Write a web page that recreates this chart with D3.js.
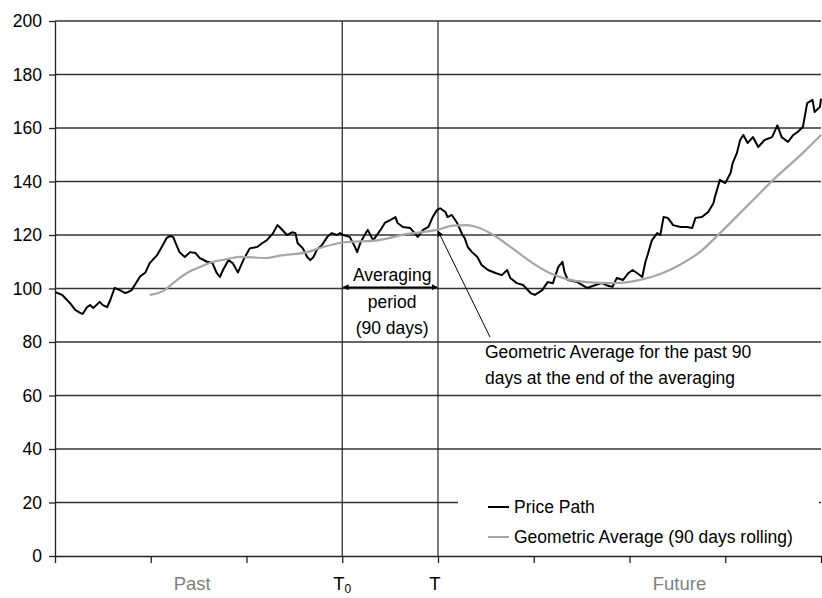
<!DOCTYPE html>
<html>
<head>
<meta charset="utf-8">
<script src="https://cdn.jsdelivr.net/npm/d3@7"></script>
<style>
  body { margin: 0; background: #fff; }
  svg { display: block; font-family: "Liberation Sans", Arial, sans-serif; }
</style>
</head>
<body>
<svg id="chart" width="822" height="598"></svg>
<script>
// price path (day, value)
const priceDays = [0, 7, 14, 19, 24, 26, 30, 33, 36, 42, 45, 49, 52, 56, 61, 66, 69, 72, 75, 80,
  85, 89, 96, 101, 105, 108, 111, 115, 117, 122, 127, 132, 136, 143, 148, 152, 155, 158, 163, 167,
  172, 177, 183, 190, 195, 199, 205, 209, 212, 218, 223, 226, 228, 233, 237, 240, 243, 246, 251, 256,
  260, 265, 268, 271, 277, 282, 284, 287, 291, 294, 299, 306, 310, 315, 320, 322, 327, 334, 338, 341,
  346, 351, 355, 359, 362, 367, 369, 373, 378, 383, 385, 388, 392, 397, 401, 407, 414, 420, 425, 428,
  434, 440, 447, 451, 458, 463, 468, 473, 477, 479, 482, 491, 500, 508, 514, 520, 524, 528, 534, 539,
  543, 547, 552, 555, 557, 561, 566, 569, 572, 576, 581, 588, 594, 599, 602, 608, 614, 619, 620, 625,
  630, 635, 637, 641, 644, 647, 651, 656, 661, 667, 674, 679, 683, 689, 694, 698, 703, 707, 712, 714,
  719, 720];
const priceValues = [98.7, 97.5, 94.6, 92, 90.8, 90.5, 93, 93.8, 92.7, 95, 93.8, 93, 95.7, 100.2, 99.4, 98.3, 98.7, 99.4, 101.3, 104.5,
  106, 109.5, 112.5, 116, 118.9, 119.6, 119.3, 115.5, 113.6, 111.8, 113.6, 113.3, 111.4, 110, 109.5, 105.8, 104.3, 107, 110.6, 109.5,
  106, 110.6, 115, 115.5, 117, 118, 120.7, 123.7, 122.6, 120, 121, 120.7, 117, 115, 111.8, 110.6, 111.8, 114.4, 116.3, 119.3,
  120.7, 120, 120.7, 120, 119.3, 115.5, 113.6, 117, 120, 121.9, 118, 121.9, 124.5, 125.6, 126.7, 124.5, 123, 122.6, 120.7, 119.3,
  121.9, 123, 126.7, 129.3, 130, 128.6, 126.7, 127.5, 124.5, 120, 118.9, 115.5, 113.6, 111.8, 108.8, 106.9, 105.8, 105, 106.9, 103.9,
  102, 101.3, 98.3, 97.6, 99.4, 102.4, 102, 108, 110, 106, 103.2, 102.4, 100.2, 101.3, 102, 101, 100.6, 103.9, 103.2, 105.8,
  106.9, 105.8, 104.3, 110, 112.5, 118, 120.7, 120, 126.7, 126.4, 123.7, 123, 123, 122.6, 126.4, 126.7, 128.6, 132, 133.8, 140.6,
  139.4, 143.2, 146.9, 150.7, 155.5, 157.4, 154.4, 156.6, 152.9, 155.5, 156.6, 161, 156.6, 154.8, 157.4, 158.5, 160.4, 169.3, 170.5, 166,
  167.9, 171];

// geometric average, 90 days rolling
const avgDays = [89, 103, 111, 124, 136, 149, 162, 174, 199, 211, 237, 252, 271, 303, 331, 359, 374, 387,
  399, 412, 430, 449, 465, 481, 500, 524, 550, 569, 587, 606, 625, 644, 656, 675, 703, 720];
const avgValues = [97.6, 99.4, 102, 105.8, 108, 110, 111, 111.8, 111.4, 112.3, 113.6, 115.5, 117.2, 118, 120.4, 121.9, 123.5, 123.7,
  122.6, 120, 115, 109.5, 105.8, 103.5, 102.4, 102, 103.2, 105.4, 108.8, 113.6, 120.7, 128.2, 133, 140.6, 150.7, 157.4];

const yTicks = [0, 20, 40, 60, 80, 100, 120, 140, 160, 180, 200];
const xTicks = [0, 90, 180, 270, 360, 450, 540, 630, 720];
const xLabelText = ["Past", "T", "T", "Future"];
const xLabelDays = [129, 270, 357, 587];
const t0 = 270, tEnd = 360;

const svg = d3.select("#chart");
const x = d3.scaleLinear().domain([0, 720]).range([55, 821]);
const y = d3.scaleLinear().domain([0, 200]).range([556, 21]);

// gridlines
svg.append("g")
  .selectAll("line")
  .data(yTicks.filter(d => d > 0))
  .enter()
  .append("line")
  .attr("x1", x(0))
  .attr("x2", x(720))
  .attr("y1", d => y(d))
  .attr("y2", d => y(d))
  .attr("stroke", "#333")
  .attr("stroke-width", 1.4);

// T0 and T markers
svg.append("g")
  .selectAll("line")
  .data([t0, tEnd])
  .enter()
  .append("line")
  .attr("x1", d => x(d))
  .attr("x2", d => x(d))
  .attr("y1", y(200))
  .attr("y2", y(0))
  .attr("stroke", "#222")
  .attr("stroke-width", 1.2);

const priceLine = d3.line()
  .x((d, i) => x(priceDays[i]))
  .y(d => y(d));

svg.append("path")
  .attr("d", priceLine(priceValues))
  .attr("fill", "none")
  .attr("stroke", "#000")
  .attr("stroke-width", 2)
  .attr("stroke-linejoin", "round");

const avgLine = d3.line()
  .x((d, i) => x(avgDays[i]))
  .y(d => y(d))
  .curve(d3.curveMonotoneX);

svg.append("path")
  .attr("d", avgLine(avgValues))
  .attr("fill", "none")
  .attr("stroke", "#a6a6a6")
  .attr("stroke-width", 2.2);

// arrow heads
const defs = svg.append("defs");
defs.append("marker")
  .attr("id", "head")
  .attr("viewBox", "0 0 10 10")
  .attr("refX", 9).attr("refY", 5)
  .attr("markerWidth", 6).attr("markerHeight", 6)
  .attr("markerUnits", "userSpaceOnUse")
  .attr("orient", "auto-start-reverse")
  .append("path")
  .attr("d", "M0,0L10,5L0,10z")
  .attr("fill", "#000");

// averaging period
svg.append("line")
  .attr("x1", x(t0) + 1).attr("x2", x(tEnd) - 1)
  .attr("y1", y(100.5)).attr("y2", y(100.5))
  .attr("stroke", "#000")
  .attr("stroke-width", 1.5)
  .attr("marker-start", "url(#head)")
  .attr("marker-end", "url(#head)");

svg.append("text")
  .attr("x", x((t0 + tEnd) / 2) + 2)
  .attr("y", y(100.5) - 6)
  .attr("text-anchor", "middle")
  .attr("font-size", 17.5)
  .selectAll("tspan")
  .data(["Averaging", "period", "(90 days)"])
  .enter()
  .append("tspan")
  .attr("x", x((t0 + tEnd) / 2) + 2)
  .attr("dy", (d, i) => i === 0 ? 0 : 26.5)
  .text(d => d);

// pointer to the average at T
const avgAtT = avgValues[avgDays.indexOf(tEnd - 1)];
svg.append("line")
  .attr("x1", 490).attr("y1", 337)
  .attr("x2", x(tEnd)).attr("y2", y(avgAtT) + 1)
  .attr("stroke", "#000")
  .attr("stroke-width", 1)
  .attr("marker-end", "url(#head)");

svg.append("text")
  .attr("font-size", 17.5)
  .selectAll("tspan")
  .data(["Geometric Average for the past 90", "days at the end of the averaging"])
  .enter()
  .append("tspan")
  .attr("x", 485)
  .attr("y", (d, i) => 358 + i * 26)
  .text(d => d);

// legend
svg.append("rect")
  .attr("x", 458).attr("y", 468)
  .attr("width", 361).attr("height", 86)
  .attr("fill", "#fff");

const legend = svg.append("g");
const legendItems = [["Price Path", "#000"], ["Geometric Average (90 days rolling)", "#a6a6a6"]];
legendItems.forEach((item, i) => {
  legend.append("line")
    .attr("x1", 488).attr("x2", 509)
    .attr("y1", 507 + i * 30).attr("y2", 507 + i * 30)
    .attr("stroke", item[1])
    .attr("stroke-width", 2);
  legend.append("text")
    .attr("x", 514).attr("y", 513 + i * 30)
    .attr("font-size", 17.5)
    .text(item[0]);
});

// axes
const yAxis = svg.append("g")
  .attr("transform", "translate(" + x(0) + ",0)")
  .call(d3.axisLeft(y).tickValues(yTicks).tickSize(6).tickSizeOuter(0).tickPadding(7));
yAxis.selectAll("text").attr("font-size", 17.5).attr("fill", "#000").attr("font-family", null);
yAxis.selectAll("line, path").attr("stroke", "#222").attr("stroke-width", 1.3);

const xAxis = svg.append("g")
  .attr("transform", "translate(0," + y(0) + ")")
  .call(d3.axisBottom(x).tickValues(xTicks).tickSize(7).tickSizeOuter(0).tickFormat(""));
xAxis.selectAll("line, path").attr("stroke", "#222").attr("stroke-width", 1.3);

const xl = svg.append("g")
  .selectAll("text")
  .data(xLabelText)
  .enter()
  .append("text")
  .attr("x", (d, i) => x(xLabelDays[i]))
  .attr("y", 590)
  .attr("text-anchor", "middle")
  .attr("font-size", 18.5)
  .attr("fill", (d, i) => (i === 0 || i === 3) ? "#808080" : "#000")
  .text(d => d);
// subscript on T0
xl.filter((d, i) => i === 1)
  .append("tspan")
  .attr("font-size", 12)
  .attr("dy", 3)
  .text("0");
</script>
</body>
</html>
